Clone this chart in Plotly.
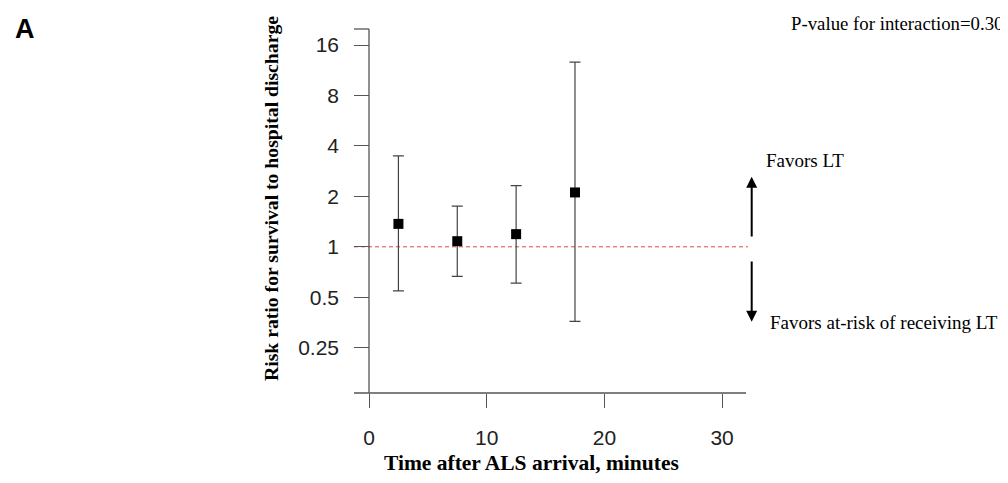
import numpy as np
import plotly.graph_objects as go

# ---- data ----
time_min = [2.5, 7.5, 12.5, 17.5]
risk_ratio = [1.37, 1.08, 1.19, 2.11]
ci_lower = [0.546, 0.666, 0.607, 0.359]
ci_upper = [3.49, 1.75, 2.32, 12.65]
ref_value = 1
y_tickvals = [0.25, 0.5, 1, 2, 4, 8, 16]
y_ticktext = ["0.25", "0.5", "1", "2", "4", "8", "16"]
x_tickvals = [0, 10, 20, 30]

OFF = 8  # page body margin
W, H = 1008 - OFF, 483 - OFF
L, R, T, B = 354, 748, 29, 393  # plot area in reference pixels

xmin, xmax = -1.274, 32.2
ymin, ymax = -0.8724, 1.2996  # log10

def xp(px):
    return (px - L) / (R - L)

def yp(py):
    return (B - py) / (B - T)

serif = "Liberation Serif, Times New Roman, serif"
sans = "Liberation Sans, Arial, sans-serif"
axis_col = "#555555"

fig = go.Figure()

fig.add_trace(go.Scatter(
    x=[xmin, xmax], y=[ref_value, ref_value], mode="lines",
    line=dict(color="#e04848", width=1, dash="4px,3px"),
    hoverinfo="skip", showlegend=False))

rr = np.array(risk_ratio)
fig.add_trace(go.Scatter(
    x=time_min, y=risk_ratio, mode="markers",
    marker=dict(symbol="square", size=10, color="black"),
    error_y=dict(type="data", symmetric=False,
                 array=list(np.array(ci_upper) - rr),
                 arrayminus=list(rr - np.array(ci_lower)),
                 color="#444444", thickness=1.2, width=5.5),
    showlegend=False))

x0p = (0 - xmin) / (xmax - xmin)
shapes = [
    dict(type="line", xref="paper", yref="paper", x0=x0p, x1=x0p, y0=0, y1=1,
         line=dict(color=axis_col, width=1.3)),
    dict(type="line", xref="paper", yref="paper", x0=0, x1=x0p, y0=1, y1=1,
         line=dict(color=axis_col, width=1.3)),
    dict(type="line", xref="paper", yref="paper", x0=0, x1=xp(746), y0=0, y1=0,
         line=dict(color=axis_col, width=1.3)),
]

annotations = [
    dict(text="<b>A</b>", x=xp(25), y=yp(29), xref="paper", yref="paper",
         showarrow=False, font=dict(family=sans, size=27, color="black"),
         xanchor="center", yanchor="middle"),
    dict(text="<b>Risk ratio for survival to hospital discharge</b>",
         x=xp(271), y=yp(199), xref="paper", yref="paper", textangle=-90,
         showarrow=False, font=dict(family=serif, size=19.7, color="black"),
         xanchor="center", yanchor="middle"),
    dict(text="<b>Time after ALS arrival, minutes</b>",
         x=xp(531.5), y=yp(463), xref="paper", yref="paper",
         showarrow=False, font=dict(family=serif, size=21.5, color="black"),
         xanchor="center", yanchor="middle"),
    dict(text="P-value for interaction=0.30", x=xp(1005), y=yp(23),
         xref="paper", yref="paper", showarrow=False,
         font=dict(family=serif, size=18.8, color="black"),
         xanchor="right", yanchor="middle"),
    dict(text="Favors LT", x=xp(764), y=yp(160), xref="paper", yref="paper",
         showarrow=False, font=dict(family=serif, size=19, color="black"),
         xanchor="left", yanchor="middle"),
    dict(text="Favors at-risk of receiving LT", x=xp(768), y=yp(322.7),
         xref="paper", yref="paper", showarrow=False,
         font=dict(family=serif, size=19, color="black"),
         xanchor="left", yanchor="middle"),
    dict(text="", x=xp(751.7), y=yp(176.7), xref="paper", yref="paper",
         showarrow=True, ax=0, ay=238 - 176.7, arrowhead=2, arrowsize=1.1,
         arrowwidth=2, arrowcolor="black", standoff=0),
    dict(text="", x=xp(751.7), y=yp(321.7), xref="paper", yref="paper",
         showarrow=True, ax=0, ay=260 - 321.7, arrowhead=2, arrowsize=1.1,
         arrowwidth=2, arrowcolor="black", standoff=0),
]

fig.update_layout(
    width=W, height=H,
    margin=dict(l=L - OFF, r=W - (R - OFF), t=T - OFF, b=H - (B - OFF), pad=0),
    paper_bgcolor="white", plot_bgcolor="white",
    shapes=shapes, annotations=annotations,
    xaxis=dict(range=[xmin, xmax], tickvals=x_tickvals,
               ticks="outside", ticklen=14, tickwidth=1.3, tickcolor=axis_col,
               showgrid=False, zeroline=False, showline=False,
               tickfont=dict(family=sans, size=21, color="#222222"),
               ticklabelstandoff=12),
    yaxis=dict(type="log", range=[ymin, ymax], tickvals=y_tickvals,
               ticktext=y_ticktext, ticks="inside", ticklen=15, tickwidth=1.3,
               tickcolor=axis_col, showgrid=False, zeroline=False, showline=False,
               tickfont=dict(family=sans, size=21, color="#222222"),
               ticklabelstandoff=14),
)

fig.write_html("out.html")
